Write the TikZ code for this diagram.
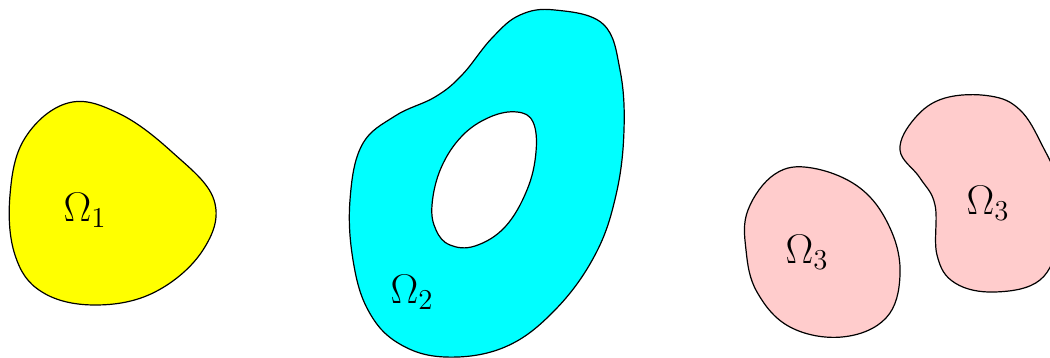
\documentclass[tikz,border=0pt]{standalone}
\usepackage{amsmath,amssymb}
\usepackage{tikz}
\usepackage{xcolor}
\definecolor{pinkish}{RGB}{255,204,204}
\definecolor{aqua}{RGB}{0,255,255}
\definecolor{lemon}{RGB}{255,255,0}

\begin{document}
\begin{tikzpicture}[x=0.5pt, y=-0.5pt, every node/.style={font=\fontsize{21}{24}\selectfont},
      region/.style={draw=black, line width=0.6pt},
      hole/.style={draw=black, fill=white, line width=0.6pt}]
    \useasboundingbox (0,0) rectangle (1050,358);
    \clip (0,0) rectangle (1050,358);
    % first domain
    \draw[region, fill=lemon] plot[smooth cycle, tension=0.65] coordinates {
      (10,195) (25,138) (68,103) (118,113) (172,152) (214,200) (203,250)
      (155,292) (95,305) (42,292) (15,255)};
    \node (om1) at (85,210) {$\Omega_1$};
    % second domain, with a hole
    \draw[region, fill=aqua] plot[smooth cycle, tension=0.65] coordinates {
      (555,10) (603,24) (620,70) (624,130) (616,195) (595,255) (555,310)
      (505,347) (445,357) (398,343) (368,310) (353,260) (350,200) (362,145)
      (395,116) (435,97) (462,75) (492,38) (520,15)};
    \draw[hole] plot[smooth cycle, tension=0.65] coordinates {
      (517,112) (533,122) (536,152) (527,190) (505,227) (475,246) (450,245)
      (436,230) (432,205) (441,168) (462,136) (490,117)};
    \node (om2) at (412,292) {$\Omega_2$};
    % third domain, two pieces
    \draw[region, fill=pinkish] plot[smooth cycle, tension=0.65] coordinates {
      (748,210) (775,174) (812,168) (860,188) (890,228) (900,275) (886,318)
      (842,337) (790,327) (757,292) (746,250)};
    \node (om3a) at (807,252) {$\Omega_3$};
    \draw[region, fill=pinkish] plot[smooth cycle, tension=0.65] coordinates {
      (900,150) (915,118) (945,98) (990,96) (1020,110) (1042,145) (1058,185)
      (1058,240) (1040,280) (995,292) (955,283) (937,255) (935,205) (920,178)};
    \node (om3b) at (988,203) {$\Omega_3$};
  \end{tikzpicture}
\end{document}
